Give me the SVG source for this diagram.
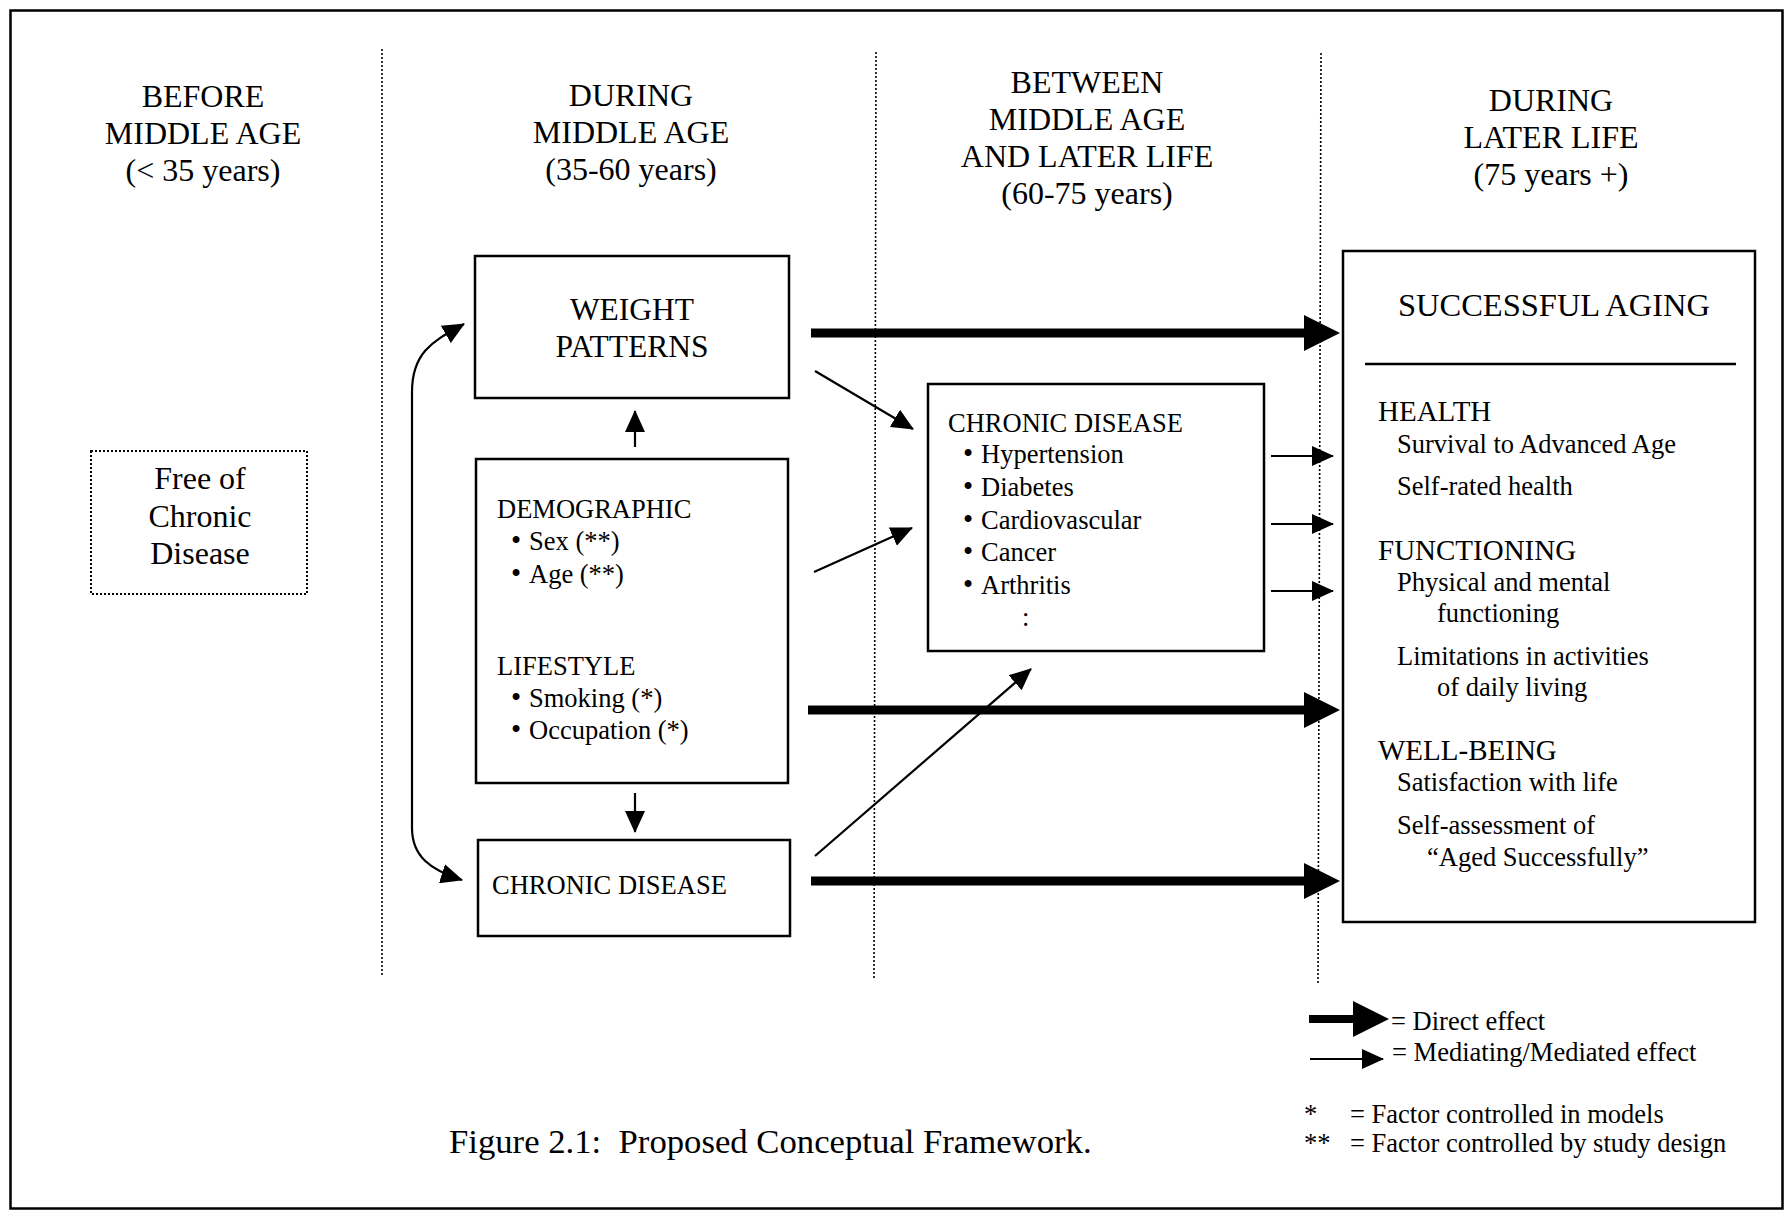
<svg xmlns="http://www.w3.org/2000/svg" width="1785" height="1214" viewBox="0 0 1785 1214">
<defs>
<style>
text { font-family: "Liberation Serif", "Times New Roman", serif; fill: #000; }
.h { font-size: 32px; text-anchor: middle; }
.w { font-size: 31.5px; text-anchor: middle; }
.n { font-size: 26.5px; }
.b { font-size: 29px; }
.s { font-size: 29px; }
.sa { font-size: 32.5px; text-anchor: middle; }
.cap { font-size: 34.7px; }
.box { fill: #fff; stroke: #000; stroke-width: 2.5; }
.dot { fill: none; stroke: #000; stroke-width: 1.6; stroke-dasharray: 2 2; }
.thin { fill: none; stroke: #000; stroke-width: 2.2; }
.thick { fill: none; stroke: #000; stroke-width: 9; }
</style>
<marker id="ah" markerUnits="userSpaceOnUse" markerWidth="22" markerHeight="20" refX="21" refY="10" orient="auto"><path d="M0,0 L22,10 L0,20 z" fill="#000"/></marker>
<marker id="ahs" markerUnits="userSpaceOnUse" markerWidth="22" markerHeight="20" refX="21" refY="10" orient="auto-start-reverse"><path d="M0,0 L22,10 L0,20 z" fill="#000"/></marker>
<marker id="big" markerUnits="userSpaceOnUse" markerWidth="36" markerHeight="36" refX="0" refY="18" orient="auto"><path d="M0,0 L36,18 L0,36 z" fill="#000"/></marker>
</defs>
<rect width="1785" height="1214" fill="#fff"/>
<rect x="10.5" y="10.5" width="1772" height="1198" fill="none" stroke="#000" stroke-width="2.5"/>

<g id="dividers">
<line class="dot" x1="382" y1="49" x2="382" y2="977"/>
<line class="dot" x1="876" y1="52" x2="874" y2="979"/>
<line class="dot" x1="1321" y1="53" x2="1318" y2="985"/>
</g>

<g id="headers">
<text class="h" x="203" y="107">BEFORE</text>
<text class="h" x="203" y="144">MIDDLE AGE</text>
<text class="h" x="203" y="181">(&lt; 35 years)</text>
<text class="h" x="631" y="106">DURING</text>
<text class="h" x="631" y="143">MIDDLE AGE</text>
<text class="h" x="631" y="180">(35-60 years)</text>
<text class="h" x="1087" y="93">BETWEEN</text>
<text class="h" x="1087" y="130">MIDDLE AGE</text>
<text class="h" x="1087" y="167">AND LATER LIFE</text>
<text class="h" x="1087" y="204">(60-75 years)</text>
<text class="h" x="1551" y="111">DURING</text>
<text class="h" x="1551" y="148">LATER LIFE</text>
<text class="h" x="1551" y="185">(75 years +)</text>
</g>

<g id="free-of-chronic-disease">
<rect x="91" y="451" width="216" height="143" fill="#fff" stroke="#000" stroke-width="2" stroke-dasharray="2 2"/>
<text class="h" x="200" y="489">Free of</text>
<text class="h" x="200" y="527">Chronic</text>
<text class="h" x="200" y="564">Disease</text>
</g>

<g id="weight-patterns">
<rect class="box" x="475" y="256" width="314" height="142"/>
<text class="w" x="632" y="320">WEIGHT</text>
<text class="w" x="632" y="357">PATTERNS</text>
</g>

<g id="demographic-lifestyle">
<rect class="box" x="476" y="459" width="312" height="324"/>
<text class="n" x="497" y="518">DEMOGRAPHIC</text>
<text class="n" x="511" y="550"><tspan class="b">•</tspan><tspan x="529">Sex (**)</tspan></text>
<text class="n" x="511" y="583"><tspan class="b">•</tspan><tspan x="529">Age (**)</tspan></text>
<text class="n" x="497" y="675">LIFESTYLE</text>
<text class="n" x="511" y="707"><tspan class="b">•</tspan><tspan x="529">Smoking (*)</tspan></text>
<text class="n" x="511" y="739"><tspan class="b">•</tspan><tspan x="529">Occupation (*)</tspan></text>
</g>

<g id="chronic-disease-mid">
<rect class="box" x="478" y="840" width="312" height="96"/>
<text class="n" x="492" y="894">CHRONIC DISEASE</text>
</g>

<g id="chronic-disease-later">
<rect class="box" x="928" y="384" width="336" height="267"/>
<text class="n" x="948" y="432">CHRONIC DISEASE</text>
<text class="n" x="963" y="463"><tspan class="b">•</tspan><tspan x="981">Hypertension</tspan></text>
<text class="n" x="963" y="496"><tspan class="b">•</tspan><tspan x="981">Diabetes</tspan></text>
<text class="n" x="963" y="529"><tspan class="b">•</tspan><tspan x="981">Cardiovascular</tspan></text>
<text class="n" x="963" y="561"><tspan class="b">•</tspan><tspan x="981">Cancer</tspan></text>
<text class="n" x="963" y="594"><tspan class="b">•</tspan><tspan x="981">Arthritis</tspan></text>
<text class="n" x="1022" y="626">:</text>
</g>

<g id="successful-aging">
<rect class="box" x="1343" y="251" width="412" height="671"/>
<text class="sa" x="1554" y="316">SUCCESSFUL AGING</text>
<line x1="1365" y1="364" x2="1736" y2="364" stroke="#000" stroke-width="2.5"/>
<text class="s" x="1378" y="421">HEALTH</text>
<text class="n" x="1397" y="453">Survival to Advanced Age</text>
<text class="n" x="1397" y="495">Self-rated health</text>
<text class="s" x="1378" y="560">FUNCTIONING</text>
<text class="n" x="1397" y="591">Physical and mental</text>
<text class="n" x="1437" y="622">functioning</text>
<text class="n" x="1397" y="665">Limitations in activities</text>
<text class="n" x="1437" y="696">of daily living</text>
<text class="s" x="1378" y="760">WELL-BEING</text>
<text class="n" x="1397" y="791">Satisfaction with life</text>
<text class="n" x="1397" y="834">Self-assessment of</text>
<text class="n" x="1427" y="866">“Aged Successfully”</text>
</g>

<g id="connectors">
<line class="thick" x1="811" y1="333" x2="1304" y2="333" marker-end="url(#big)"/>
<line class="thick" x1="808" y1="710" x2="1304" y2="710" marker-end="url(#big)"/>
<line class="thick" x1="811" y1="881" x2="1304" y2="881" marker-end="url(#big)"/>
<line class="thin" x1="635" y1="447" x2="635" y2="411" marker-end="url(#ah)"/>
<line class="thin" x1="635" y1="793" x2="635" y2="832" marker-end="url(#ah)"/>
<path class="thin" d="M464,324 C436,340 412,350 412,392 L412,828 C412,856 430,870 462,880" marker-start="url(#ahs)" marker-end="url(#ah)"/>
<line class="thin" x1="815" y1="371" x2="913" y2="429" marker-end="url(#ah)"/>
<line class="thin" x1="814" y1="572" x2="912" y2="528" marker-end="url(#ah)"/>
<line class="thin" x1="815" y1="856" x2="1031" y2="669" marker-end="url(#ah)"/>
<line class="thin" x1="1271" y1="456" x2="1333" y2="456" marker-end="url(#ah)"/>
<line class="thin" x1="1271" y1="524" x2="1333" y2="524" marker-end="url(#ah)"/>
<line class="thin" x1="1271" y1="591" x2="1333" y2="591" marker-end="url(#ah)"/>
</g>

<g id="legend">
<line x1="1309" y1="1019" x2="1353" y2="1019" stroke="#000" stroke-width="8" marker-end="url(#big)"/>
<text class="n" x="1391" y="1030">= Direct effect</text>
<line class="thin" x1="1310" y1="1059" x2="1383" y2="1059" marker-end="url(#ah)"/>
<text class="n" x="1392" y="1061">= Mediating/Mediated effect</text>
<text class="n" x="1304" y="1123">*</text>
<text class="n" x="1350" y="1123">= Factor controlled in models</text>
<text class="n" x="1304" y="1152">**</text>
<text class="n" x="1350" y="1152">= Factor controlled by study design</text>
</g>

<text class="cap" x="449" y="1153">Figure 2.1:&#160; Proposed Conceptual Framework.</text>
</svg>
